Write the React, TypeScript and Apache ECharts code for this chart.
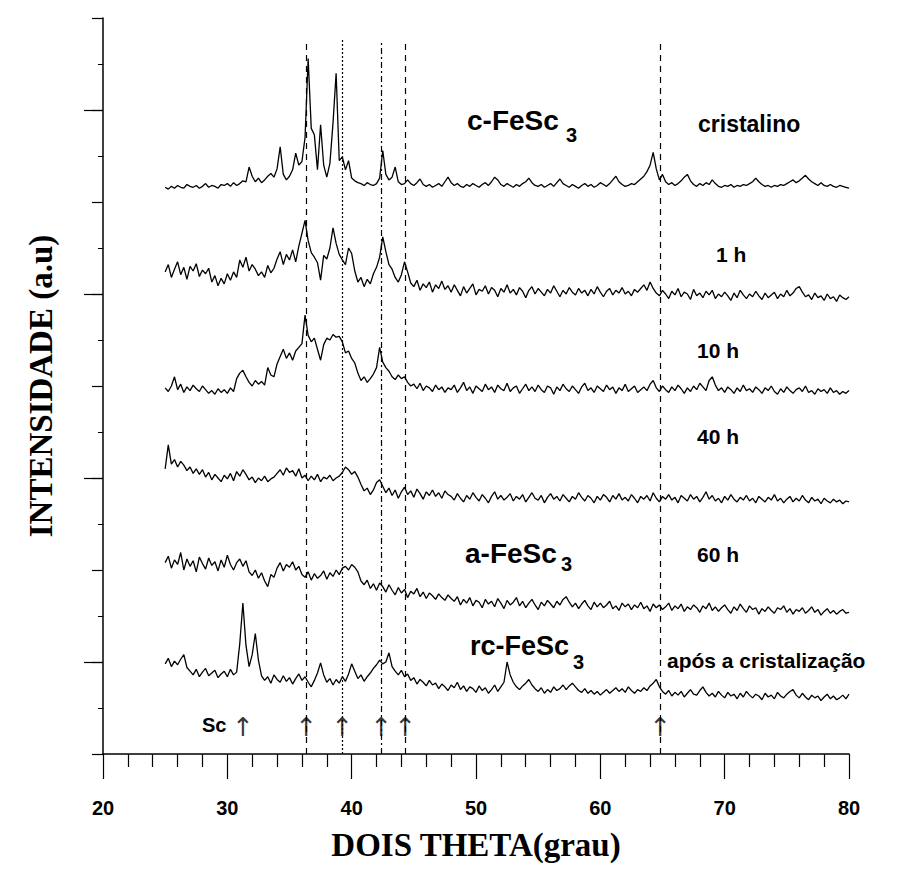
import React, { useEffect, useRef } from "react";
import * as echarts from "echarts";

// 2θ sampling grid (degrees): 25.00 … 80.00, step 0.25
const X_START = 25;
const X_STEP = 0.25;
const N_POINTS = 221;
const twoTheta: number[] = Array.from({ length: N_POINTS }, (_, i) => X_START + i * X_STEP);

// intensities (a.u., relative to each pattern's vertical offset)
const cFeSc3Cristalino = [
  16,14,17,15,18,16,15,19,17,16,18,15,17,20,16,18,17,15,19,18,20,
  17,21,18,20,23,22,
  38,28,22,26,21,24,28,31,27,36,60,30,24,28,35,53,40,44,70,156,80,73,35,84,40,27,42,86,140,45,49,35,45,26,23,21,20,18,21,19,18,20,26,56,30,24,27,38,22,19,20,24,20,18,21,25,19,
  17,19,16,18,20,17,22,
  27,21,18,20,17,16,19,17,20,18,16,19,21,18,22,27,24,19,17,20,18,16,19,17,20,22,26,21,18,17,19,16,18,20,17,21,25,20,18,16,19,17,15,18,20,17,19,16,18,21,19,17,20,24,28,22,19,17,18,20,19,22,25,28,33,40,
  54,36,24,30,22,19,21,18,20,23,27,30,23,19,17,20,18,21,19,24,20,17,16,18,17,19,16,18,17,19,18,20,22,26,22,19,17,18,16,18,17,19,18,20,22,24,21,23,26,29,25,22,20,18,21,18,17,19,17,16,18,17,16,15,
];

const h1 = [
  44,52,38,47,55,41,49,36,50,45,53,39,46,42,48,
  33,40,29,37,31,42,35,44,38,
  57,49,60,45,52,47,40,
  44,38,51,43,48,
  58,66,52,63,57,68,55,
  72,86,100,78,65,
  60,54,35,62,58,70,
  92,75,63,57,52,70,64,45,
  33,38,28,36,31,
  42,49,60,
  82,66,52,47,38,33,41,55,44,32,
  28,35,24,31,27,33,22,30,26,34,25,29,
  22,30,24,18,28,21,26,31,19,25,23,29,20,27,24,17,26,22,30,21,25,19,27,23,16,24,28,20,26,22,18,25,21,29,23,17,24,20,27,22,19,26,21,24,18,25,20,28,22,17,23,26,19,24,21,27,20,23,18,25,22,26,30,24,33,
  26,21,18,24,20,15,23,19,26,17,22,20,14,25,18,21,16,23,19,24,15,20,17,22,18,13,21,16,24,19,15,20,17,23,18,14,21,16,19,22,
  15,20,17,24,18,21,26,28,22,17,19,14,21,16,18,13,20,15,17,12,19,16,14,17,
];

const h10 = [
  18,14,20,30,16,22,13,19,15,21,17,14,20,16,12,
  15,11,17,13,16,12,18,14,
  28,34,37,30,
  24,20,26,22,25,21,
  40,32,30,44,52,60,50,56,48,58,62,66,97,75,68,72,60,48,65,72,70,76,73,74,68,56,58,50,45,34,26,30,24,28,33,40,62,46,40,36,30,27,32,28,30,24,20,
  22,17,23,15,20,18,14,21,16,19,13,18,
  16,21,13,18,24,15,19,12,20,17,
  14,22,16,19,13,21,17,15,23,14,
  18,20,12,17,22,15,19,14,21,16,
  13,20,18,11,19,15,22,17,14,20,
  16,12,19,23,15,18,13,20,17,14,
  21,16,19,12,18,15,22,14,17,20,
  13,16,19,15,22,26,18,14,20,16,
  13,19,15,21,17,12,18,14,20,16,
  23,19,15,26,30,21,15,18,13,19,
  16,12,18,14,21,15,17,13,19,16,
  12,18,15,20,14,11,17,13,19,15,
  12,16,18,14,20,13,15,11,17,14,
  16,12,18,13,15,11,14,12,15,
];

const h40 = [
  50,76,55,60,52,58,54,
  48,52,45,50,44,49,
  41,46,38,44,40,36,43,39,45,37,
  47,42,49,44,
  38,41,35,40,37,42,36,39,41,
  45,49,43,51,46,48,42,50,
  40,43,37,42,38,44,36,41,39,43,37,40,42,
  46,52,49,44,47,41,33,
  26,29,22,27,
  35,38,31,
  24,29,21,27,18,25,30,22,26,19,28,23,17,25,21,27,20,24,18,26,22,
  20,16,23,18,14,21,17,24,19,15,
  22,18,13,20,25,17,21,16,19,23,
  15,20,17,22,14,19,24,18,16,21,
  13,19,23,17,20,15,22,18,14,20,
  17,24,19,15,21,18,13,20,16,22,
  19,14,21,17,23,16,19,15,22,18,
  13,20,17,21,15,24,18,14,20,17,
  22,16,19,13,21,18,15,22,17,20,
  14,19,25,17,21,15,18,13,20,16,
  22,17,14,19,16,21,15,18,13,20,
  17,14,19,16,22,15,18,13,17,20,
  14,18,15,21,16,13,19,15,17,12,
  18,15,13,17,14,16,12,15,14,
];

const h60 = [
  68,75,62,71,66,79,60,72,64,70,58,74,67,61,73,65,69,59,71,63,76,66,60,68,72,
  64,70,
  58,54,60,51,57,48,42,55,52,
  62,68,59,66,63,69,60,64,
  55,52,58,49,56,51,54,59,50,57,53,60,55,62,
  64,60,66,63,58,
  48,44,49,40,45,38,46,
  42,36,44,38,33,41,35,39,30,37,34,40,31,36,29,35,32,28,34,30,27,33,29,
  26,31,22,28,24,30,21,27,25,19,
  28,23,26,20,29,24,18,27,22,25,
  30,21,26,19,24,28,22,17,25,21,
  27,23,19,26,22,28,31,25,20,24,
  18,23,27,21,17,25,20,24,19,22,
  26,18,21,16,24,20,23,17,22,19,
  25,18,21,15,23,19,22,17,20,24,
  16,21,18,23,15,20,17,22,19,14,
  21,18,24,16,20,15,19,22,17,13,
  20,16,23,18,14,21,17,19,12,18,
  15,20,16,13,19,17,21,14,18,12,
  17,15,19,13,16,20,14,17,11,15,
  18,13,16,12,15,17,13,14,
];

const rcFeSc3 = [
  58,64,55,61,57,63,68,54,
  50,46,52,44,49,53,45,48,51,43,47,50,44,52,46,49,
  80,124,78,55,68,91,62,45,
  40,44,37,46,41,38,45,39,43,36,42,47,40,44,38,
  33,40,48,59,46,38,42,35,41,37,44,39,47,58,50,42,46,39,44,48,53,57,62,58,60,70,55,50,46,51,44,47,
  40,43,36,41,38,34,40,35,37,31,36,33,29,35,32,38,30,34,28,33,
  31,27,34,29,32,26,30,35,28,33,38,
  60,46,38,33,30,34,37,41,35,31,
  28,32,26,30,27,33,29,31,35,30,34,
  37,33,29,27,31,26,29,25,28,24,
  27,30,26,29,32,28,31,27,33,29,26,30,28,32,29,34,37,
  41,33,28,
  25,29,23,27,24,28,22,26,30,25,
  24,29,33,27,23,26,22,28,24,21,
  27,23,25,20,26,22,28,24,21,25,
  23,19,26,22,24,20,27,23,21,25,
  28,30,24,21,26,22,19,24,21,23,
  18,22,25,20,23,19,21,24,20,25,
];

const patterns = [cFeSc3Cristalino, h1, h10, h40, h60, rcFeSc3];
const patternNames = ["cristalino", "1 h", "10 h", "40 h", "60 h", "após a cristalização"];
// vertical stacking offsets of the patterns (a.u.)
const patternOffsets = [600, 480, 380, 260, 140, 40];

// reference peak positions (2θ) marked with vertical lines and arrows
const peakLines = [36.33, 39.23, 42.37, 44.3, 64.81];
const scPeak = 31.26;
const arrowLevel = 29;
const lineTop = 776;
const lineBottom = 0;

const longTickValues = [100, 300, 500, 700];

const SANS = "Liberation Sans, Arial, sans-serif";
const SERIF = "Liberation Serif, Times New Roman, serif";

export default function App() {
  const ref = useRef<HTMLDivElement>(null);

  useEffect(() => {
    if (!ref.current) return;
    const chart = echarts.init(ref.current, undefined, { renderer: "svg" });

    const dashStyles: any[] = [[6, 5], [2, 2], [6, 3, 2, 3], [6, 5], [6, 5]];

    const lineSeries: any[] = patterns.map((vals, k) => ({
      name: patternNames[k],
      type: "line",
      data: twoTheta.map((x, i) => [x, vals[i] + patternOffsets[k]]),
      showSymbol: false,
      symbol: "none",
      silent: true,
      lineStyle: { color: "#000", width: 1.3 },
      ...(k === 0
        ? {
            markLine: {
              silent: true,
              symbol: ["none", "none"],
              label: { show: false },
              data: peakLines.map((p, j) => [
                { coord: [p, lineBottom], lineStyle: { color: "#000", width: 1.2, type: dashStyles[j] } },
                { coord: [p, lineTop] },
              ]),
            },
          }
        : {}),
    }));

    const arrowSeries = {
      type: "scatter",
      silent: true,
      symbol: "circle",
      symbolSize: 1,
      itemStyle: { color: "rgba(0,0,0,0)" },
      data: [scPeak, ...peakLines].map((p) => [p, arrowLevel]),
      label: {
        show: true,
        position: "inside",
        formatter: "↑",
        fontSize: 26,
        fontFamily: "DejaVu Sans, sans-serif",
        color: "#000",
      },
    };

    const txt = (text: string, x: number, y: number, size: number, family = SANS) => ({
      type: "text",
      x,
      y,
      silent: true,
      style: {
        text,
        fontSize: size,
        fontWeight: "bold",
        fontFamily: family,
        fill: "#000",
        align: "left",
        verticalAlign: "middle",
      },
    });

    chart.setOption({
      animation: false,
      backgroundColor: "#fff",
      grid: { left: 103, right: 48, top: 18, bottom: 118, containLabel: false },
      xAxis: {
        type: "value",
        min: 20,
        max: 80,
        interval: 10,
        name: "DOIS THETA(grau)",
        nameLocation: "middle",
        nameGap: 74,
        nameTextStyle: { fontFamily: SERIF, fontWeight: "bold", fontSize: 33, color: "#000" },
        axisLine: { show: true, lineStyle: { color: "#000", width: 1.5 } },
        axisTick: { show: true, length: 25, lineStyle: { color: "#000", width: 1.2 } },
        minorTick: { show: true, splitNumber: 5, length: 13, lineStyle: { color: "#000", width: 1.2 } },
        axisLabel: { fontFamily: SANS, fontWeight: "bold", fontSize: 20, color: "#000", margin: 44 },
        splitLine: { show: false },
        minorSplitLine: { show: false },
      },
      yAxis: [
        {
          type: "value",
          min: 0,
          max: 800,
          interval: 100,
          position: "left",
          name: "INTENSIDADE (a.u)",
          nameLocation: "middle",
          nameRotate: 90,
          nameGap: 46,
          nameTextStyle: { fontFamily: SERIF, fontWeight: "bold", fontSize: 33, color: "#000" },
          axisLine: { show: true, lineStyle: { color: "#000", width: 1.5 } },
          axisTick: { show: true, length: 11, lineStyle: { color: "#000", width: 1.2 } },
          minorTick: { show: true, splitNumber: 2, length: 5, lineStyle: { color: "#000", width: 1 } },
          axisLabel: { show: false },
          splitLine: { show: false },
        },
        {
          type: "value",
          min: 0,
          max: 800,
          position: "left",
          axisLine: { show: false },
          axisTick: { show: true, length: 19, customValues: longTickValues, lineStyle: { color: "#000", width: 1.2 } },
          axisLabel: { show: false },
          splitLine: { show: false },
        },
      ],
      series: [...lineSeries, arrowSeries],
      graphic: [
        txt("c-FeSc", 467, 120, 28),
        txt("3", 566, 135, 20),
        txt("cristalino", 698, 124, 23),
        txt("1 h", 716, 254, 21),
        txt("10 h", 697, 350, 21),
        txt("40 h", 697, 436, 21),
        txt("a-FeSc", 465, 553, 28),
        txt("3", 561, 564, 20),
        txt("60 h", 697, 554, 21),
        txt("rc-FeSc", 470, 646, 27),
        txt("3", 573, 662, 20),
        txt("após a cristalização", 667, 660, 21),
        txt("Sc", 202, 725, 20),
      ],
    });

    return () => chart.dispose();
  }, []);

  return (
    <div
      ref={ref}
      style={{ position: "fixed", left: 0, top: 0, width: 897, height: 872, background: "#fff" }}
    />
  );
}
